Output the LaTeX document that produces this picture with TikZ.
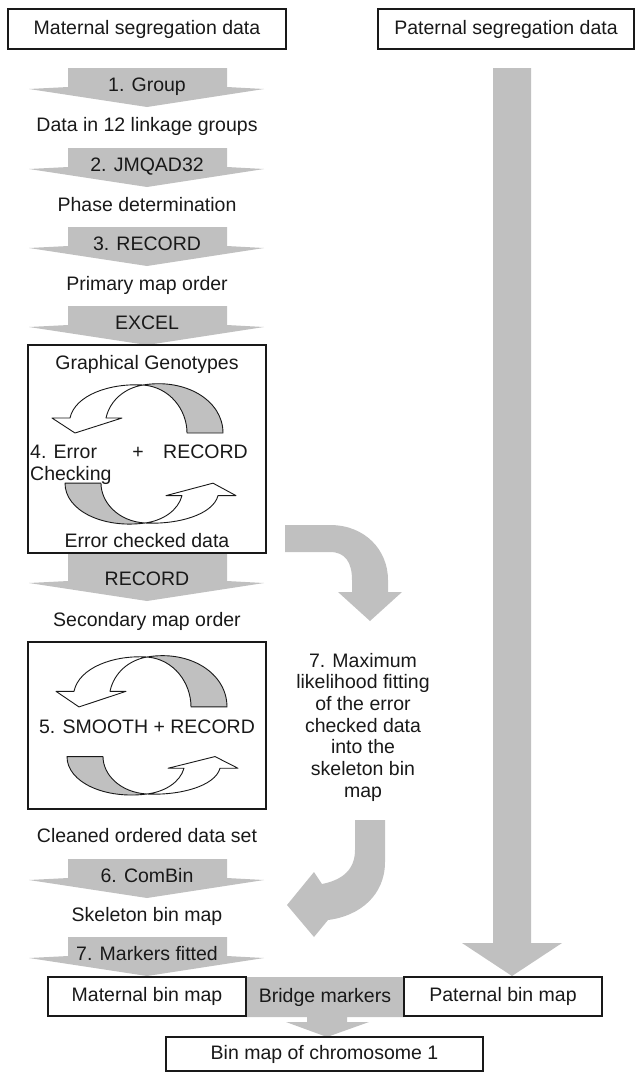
\documentclass[tikz,border=0pt]{standalone}
\usepackage{fontspec}
\setmainfont{Liberation Sans}
\definecolor{arrowgray}{RGB}{192,192,192}
\definecolor{ink}{RGB}{25,25,25}
\tikzset{
  box/.style={draw=ink, line width=1.3pt, fill=white, inner sep=0pt,
              text height=14pt, text depth=4pt, text=ink},
  lbl/.style={inner sep=0pt, anchor=base, text=ink},
  ribbon/.style={draw=ink, line width=0.9pt, line join=round},
  blk/.style={fill=arrowgray},
}
% broad downward block arrow of the left column: #1 = top of shaft, #2 = reference level
\newcommand\downblock[2]{%
  \fill[blk] (68,#1) -- (227,#1) -- (227,#2+19) -- (264,#2+21) -- (147,#2+39)
    -- (29,#2+21) -- (68,#2+19) -- cycle;}
% twisted pair of circular arrows, crossing point at the local origin
\newcommand\cyclepair{%
  \filldraw[ribbon, fill=arrowgray] (0,0) .. controls (27,2) and (44,25) .. (44,48)
    -- (80,48) .. controls (80,15) and (42,-7) .. (0,0) -- cycle;
  \filldraw[ribbon, fill=white] (0,0) .. controls (-33,-2) and (-68,10) .. (-73,33)
    -- (-91,33) -- (-68,48) -- (-21,33) -- (-37,33)
    .. controls (-33,15) and (-18,3) .. (0,0) -- cycle;}
\begin{document}
\begin{tikzpicture}[x=1pt, y=-1pt, font=\fontsize{19.5}{21.67}\selectfont]
\useasboundingbox (0,0) rectangle (635,1072);

% ---- grey block arrows ----
\downblock{68}{68}
\downblock{148}{148}
\downblock{227}{227}
\downblock{306}{306}
\downblock{553}{562}
\downblock{859}{859}
\downblock{937}{937}

% paternal data flow straight down
\fill[blk] (493,68) -- (531,68) -- (531,943) -- (562,943) -- (512,976)
  -- (462,943) -- (493,943) -- cycle;

% bent arrow leaving the error-checked data
\fill[blk] (285,525) -- (330,525) .. controls (365,525) and (388,550) .. (388,580)
  -- (388,592) -- (402,592) -- (370,621) -- (338,592) -- (352,592) -- (352,580)
  .. controls (352,562) and (345,552) .. (330,552) -- (285,552) -- cycle;

% bent arrow returning to the skeleton bin map
\fill[blk] (355,820) -- (385,820) -- (385,862) .. controls (385,895) and (360,916) .. (328,920)
  -- (314,937) -- (287,905) -- (314,872) -- (322,884)
  .. controls (342,880) and (355,870) .. (355,850) -- cycle;

% bridge markers joining the two parental maps
\fill[blk] (246,977) -- (404,977) -- (404,1017) -- (347,1017) -- (347,1022) -- (369,1022)
  -- (327,1037) -- (286,1022) -- (307,1022) -- (307,1017) -- (246,1017) -- cycle;

% ---- boxes ----
\node[box, minimum width=278pt, minimum height=40pt] (matseg) at (147,29) {Maternal segregation data};
\node[box, minimum width=256pt, minimum height=40pt] (patseg) at (506,29) {Paternal segregation data};
\node[box, minimum width=238pt, minimum height=208pt] (gbox) at (147,449) {};
\node[box, minimum width=238pt, minimum height=167pt] (sbox) at (147,725.5) {};
\node[box, minimum width=198pt, minimum height=39pt] (matbin) at (147,996.5) {Maternal bin map};
\node[box, minimum width=198pt, minimum height=39pt] (patbin) at (503,996.5) {Paternal bin map};
\node[box, minimum width=317pt, minimum height=34pt] (chrom) at (324.5,1054) {Bin map of chromosome 1};

% ---- circular arrows ----
\begin{scope}[shift={(143,385)}] \cyclepair \end{scope}
\begin{scope}[shift={(145,523)}, rotate=180, yscale=0.83] \cyclepair \end{scope}
\begin{scope}[shift={(147,657)}, yscale=1.04] \cyclepair \end{scope}
\begin{scope}[shift={(147,794)}, rotate=180, yscale=0.78] \cyclepair \end{scope}

% ---- labels ----
\node[lbl] (t1) at (147,91) {1. Group};
\node[lbl] (s1) at (147,131) {Data in 12 linkage groups};
\node[lbl] (t2) at (147,171) {2. JMQAD32};
\node[lbl] (s2) at (147,211) {Phase determination};
\node[lbl] (t3) at (147,250) {3. RECORD};
\node[lbl] (s3) at (147,290) {Primary map order};
\node[lbl] (t4) at (147,329) {EXCEL};
\node[lbl] (gg) at (147,369) {Graphical Genotypes};
\node[lbl, anchor=base west] (err) at (30,458) {4. Error};
\node[lbl] (plus) at (138,458) {+};
\node[lbl, anchor=base west] (rec4) at (163,458) {RECORD};
\node[lbl, anchor=base west] (chk) at (30,480) {Checking};
\node[lbl] (ecd) at (147,547) {Error checked data};
\node[lbl] (t5) at (147,585) {RECORD};
\node[lbl] (s5) at (147,626) {Secondary map order};
\node[lbl] (sm) at (147,733) {5. SMOOTH + RECORD};
\node[lbl] (cl) at (147,842) {Cleaned ordered data set};
\node[lbl] (t6) at (147,882) {6. ComBin};
\node[lbl] (s6) at (147,921) {Skeleton bin map};
\node[lbl] (t7) at (147,960) {7. Markers fitted};
\node[lbl] (br) at (325,1002) {Bridge markers};
\node[align=center, inner sep=0pt, text=ink] (mlf) at (363,727)
  {7. Maximum\\likelihood fitting\\of the error\\checked data\\into the\\skeleton bin\\map};
\end{tikzpicture}
\end{document}
